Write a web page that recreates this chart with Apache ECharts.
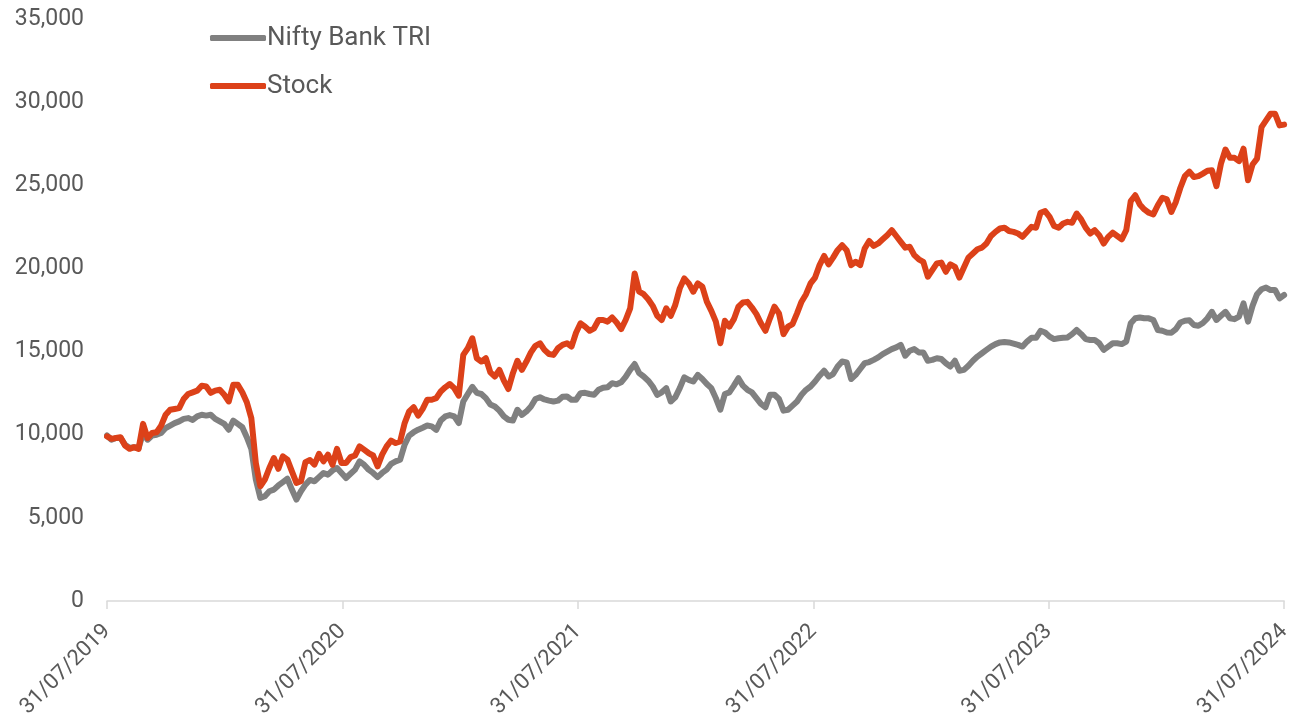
<!DOCTYPE html>
<html>
<head>
<meta charset="utf-8">
<script src="https://cdn.jsdelivr.net/npm/echarts@6/dist/echarts.min.js"></script>
<style>
html,body{margin:0;padding:0;background:#fff;}
#chart{width:1294px;height:724px;}
</style>
</head>
<body>
<div id="chart"></div>
<script>
// Weekly observations starting 31/07/2019 (262 weeks to 31/07/2024)
const startDate = '31/07/2019';
const yearTickLabels = ['31/07/2019','31/07/2020','31/07/2021','31/07/2022','31/07/2023','31/07/2024'];
const seriesNames = ['Nifty Bank TRI','Stock'];

const niftyBankTRI = [
9950,9700,9800,9800,9400,9200,9250,9200,10100,9700,
9950,10000,10100,10400,10550,10700,10800,10950,11000,10890,
11100,11200,11150,11200,10950,10800,10650,10300,10850,10650,
10450,9850,9150,7300,6200,6300,6600,6700,6950,7150,
7350,6700,6100,6600,7000,7280,7200,7450,7700,7600,
7850,8000,7700,7400,7650,7900,8400,8200,7900,7700,
7450,7700,7900,8250,8400,8500,9400,9950,10150,10300,
10420,10550,10500,10290,10850,11100,11180,11100,10700,12000,
12450,12880,12520,12450,12200,11820,11700,11450,11100,10900,
10850,11500,11190,11400,11700,12150,12250,12120,12050,12000,
12050,12280,12300,12100,12100,12500,12520,12450,12400,12700,
12820,12850,13100,13030,13150,13480,13900,14250,13700,13500,
13250,12900,12400,12550,12800,12000,12250,12800,13450,13300,
13200,13600,13350,13050,12800,12200,11500,12450,12550,12950,
13400,12950,12700,12550,12200,11850,11650,12400,12400,12150,
11450,11500,11750,12000,12400,12700,12900,13200,13550,13850,
13500,13650,14100,14400,14350,13350,13600,13950,14300,14370,
14500,14650,14850,15000,15150,15250,15400,14750,15050,15150,
14950,14950,14450,14500,14600,14550,14300,14100,14450,13850,
13900,14150,14450,14700,14900,15100,15300,15450,15550,15580,
15550,15480,15400,15300,15600,15830,15830,16250,16150,15900,
15750,15800,15830,15850,16050,16300,16050,15750,15700,15700,
15500,15100,15300,15500,15500,15450,15600,16700,17000,17050,
17000,17000,16900,16300,16250,16150,16130,16350,16750,16850,
16880,16600,16550,16720,17000,17390,16900,17150,17390,17000,
16950,17100,17900,16800,17750,18450,18750,18850,18700,18700,
18200,18400
];

const stock = [
9900,9750,9800,9850,9350,9150,9250,9150,10650,9800,
10100,10150,10550,11200,11500,11550,11600,12150,12450,12550,
12650,12950,12900,12520,12650,12700,12400,12000,13000,13000,
12550,11950,11000,8300,6900,7300,8000,8600,7950,8700,
8500,7800,7100,7200,8350,8480,8200,8850,8400,8800,
8200,9150,8300,8300,8650,8750,9300,9100,8900,8750,
8100,8800,9300,9650,9500,9600,10700,11400,11650,11150,
11550,12100,12100,12200,12600,12850,13050,12800,12350,14800,
15200,15800,14600,14400,14600,13750,13500,13900,13250,12750,
13700,14450,13900,14400,14950,15350,15500,15100,14850,14800,
15200,15400,15500,15300,16130,16700,16500,16250,16400,16900,
16900,16800,17050,16750,16350,16900,17600,19700,18600,18450,
18150,17750,17150,16900,17600,17150,17800,18800,19400,19100,
18600,19100,18900,18000,17450,16800,15500,16850,16500,16950,
17700,17950,17990,17650,17250,16700,16250,17000,17700,17300,
16050,16500,16650,17300,18000,18450,19100,19450,20200,20750,
20250,20650,21100,21400,21100,20200,20400,20200,21200,21650,
21350,21500,21750,22000,22300,21950,21600,21250,21300,20800,
20550,20400,19500,19900,20300,20350,19800,20250,20100,19450,
20050,20650,20900,21150,21250,21500,21950,22200,22400,22450,
22250,22200,22100,21900,22200,22500,22450,23350,23450,23100,
22550,22450,22700,22800,22750,23300,22950,22450,22100,22300,
22000,21500,21900,22150,21950,21750,22300,24050,24400,23850,
23550,23350,23250,23800,24250,24150,23400,24000,24850,25550,
25820,25500,25550,25700,25870,25900,24950,26300,27150,26650,
26650,26450,27200,25300,26250,26600,28500,28900,29300,29300,
28600,28650
];

const yMin = 0, yMax = 35000, yStep = 5000;
const totalDays = 1827; // 31/07/2019 -> 31/07/2024
const yearSpan = totalDays / 5;

function toPairs(vals){ return vals.map((v,i)=>[i*7, v]); }

const chart = echarts.init(document.getElementById('chart'));
const textColor = '#595959';
const fontFamily = 'Roboto, "Noto Sans", sans-serif';

chart.setOption({
  animation:false,
  backgroundColor:'#ffffff',
  grid:{left:107, right:6, top:19, bottom:123, containLabel:false},
  legend:{
    orient:'vertical',
    left:205, top:20,
    itemWidth:56, itemHeight:6, itemGap:22,
    icon:'roundRect',
    textStyle:{color:textColor, fontSize:26, lineHeight:26, fontFamily:fontFamily, padding:[0,0,0,-4]},
    data:seriesNames
  },
  xAxis:{
    type:'value', min:0, max:totalDays, interval:yearSpan,
    splitLine:{show:false},
    axisLine:{show:true, lineStyle:{color:'#d9d9d9', width:1.5}},
    axisTick:{show:true, length:8, lineStyle:{color:'#d9d9d9', width:1.5}},
    axisLabel:{
      rotate:45, margin:27, color:textColor, fontSize:22, fontFamily:fontFamily,
      formatter:function(v){ const k=Math.round(v/yearSpan); return yearTickLabels[k]||''; },
      showMinLabel:true, showMaxLabel:true
    }
  },
  yAxis:{
    type:'value', min:yMin, max:yMax, interval:yStep,
    splitLine:{show:false},
    axisLine:{show:false}, axisTick:{show:false},
    axisLabel:{color:textColor, fontSize:23, fontFamily:fontFamily, margin:23,
      formatter:function(v){ return v.toLocaleString('en-US'); }}
  },
  series:[
    {name:seriesNames[0], type:'line', data:toPairs(niftyBankTRI), showSymbol:false, symbol:'none',
     lineStyle:{color:'#808080', width:6, cap:'round', join:'round'}, itemStyle:{color:'#808080'}},
    {name:seriesNames[1], type:'line', data:toPairs(stock), showSymbol:false, symbol:'none',
     lineStyle:{color:'#dc4119', width:6, cap:'round', join:'round'}, itemStyle:{color:'#dc4119'}}
  ]
});
</script>
</body>
</html>
